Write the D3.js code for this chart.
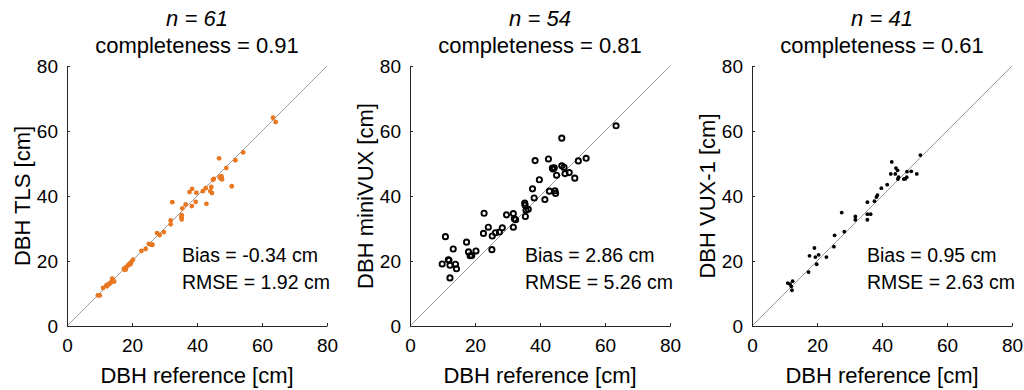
<!DOCTYPE html>
<html>
<head>
<meta charset="utf-8">
<script src="https://cdn.jsdelivr.net/npm/d3@7"></script>
<style>
  body { margin: 0; background: #fff; }
  svg { font-family: 'Liberation Sans', Arial, sans-serif; }
</style>
</head>
<body>
<svg width="1024" height="390"></svg>
<script>
// panel titles and stats
const counts = [61, 54, 41]
const completeness = ['0.91', '0.81', '0.61']
const yLabels = ['DBH TLS [cm]', 'DBH miniVUX [cm]', 'DBH VUX-1 [cm]']
const biasText = ['-0.34', '2.86', '0.95']
const rmseText = ['1.92', '5.26', '2.63']
const ticks = [0, 20, 40, 60, 80]

// [reference DBH, estimated DBH]
const tlsPoints = [
  [9.5, 9.4], [10.1, 9.4], [11.1, 11.7], [12.1, 12.5], [12.3, 12.2], [12.6, 12.8], [13.1, 13.0],
  [13.6, 13.5], [13.9, 14.6], [14.5, 13.7], [17.5, 17.6], [17.7, 17.3], [18.0, 17.9], [18.1, 17.4],
  [18.3, 18.2], [18.8, 18.7], [19.3, 19.2], [19.5, 19.0], [19.8, 19.7], [20.3, 20.4], [22.9, 23.1],
  [24.2, 23.7], [25.2, 25.3], [25.9, 25.0], [26.3, 25.0], [27.7, 28.6], [28.5, 28.0], [29.8, 28.9],
  [31.9, 32.5], [31.9, 31.3], [32.4, 38.1], [35.2, 33.5], [35.3, 34.1], [35.3, 32.8], [35.5, 36.2],
  [36.5, 37.4], [37.7, 41.2], [38.5, 42.2], [38.4, 36.9], [39.6, 38.2], [39.8, 41.0], [41.8, 41.5],
  [42.7, 42.4], [42.9, 37.6], [44.1, 41.5], [44.4, 42.8], [44.6, 40.9], [44.9, 45.0], [45.2, 45.3],
  [46.8, 51.6], [47.0, 45.8], [47.3, 45.4], [47.5, 45.6], [47.7, 45.1], [47.5, 46.1], [49.0, 48.6],
  [50.7, 43.0], [51.8, 51.0], [54.2, 53.4], [63.4, 64.1], [64.2, 62.8]
]
const miniVuxPoints = [
  [9.9, 19.1], [10.9, 27.5], [11.8, 20.4], [12.0, 20.2], [12.3, 18.7], [12.3, 14.8], [13.3, 23.7],
  [14.0, 19.0], [14.3, 17.6], [17.4, 25.8], [18.0, 22.8], [18.5, 21.6], [19.0, 21.7], [20.3, 23.1],
  [22.8, 34.7], [22.6, 28.5], [24.1, 30.4], [25.2, 23.5], [25.3, 27.7], [26.3, 28.7], [27.5, 28.9],
  [28.4, 30.2], [29.7, 34.2], [31.8, 34.6], [31.8, 30.4], [32.1, 33.0], [32.5, 32.7], [35.3, 37.8],
  [35.4, 37.2], [35.5, 33.7], [35.7, 35.6], [36.4, 35.9], [37.7, 42.2], [38.2, 39.4], [38.5, 50.9],
  [39.8, 45.0], [41.5, 38.9], [42.6, 51.4], [42.9, 41.5], [43.8, 48.6], [44.4, 48.7], [44.6, 41.6],
  [44.8, 40.8], [45.1, 46.4], [46.7, 57.8], [46.7, 49.3], [47.4, 48.8], [47.7, 46.9], [49.0, 47.2],
  [50.7, 45.5], [51.8, 50.8], [54.2, 51.6], [63.4, 61.6], [44.0, 48.3]
]
const vuxPoints = [
  [11.0, 13.2], [11.7, 12.9], [12.5, 13.8], [12.3, 11.0], [12.1, 12.2], [17.4, 16.6], [17.7, 21.6],
  [19.2, 24.0], [19.5, 21.2], [19.9, 19.0], [20.5, 21.9], [22.9, 21.2], [25.2, 24.4], [25.4, 27.9],
  [27.6, 34.9], [28.4, 29.0], [31.8, 33.7], [31.8, 32.7], [35.5, 38.1], [35.5, 34.4], [35.5, 32.7],
  [36.5, 34.4], [37.7, 38.4], [38.3, 39.7], [38.6, 40.3], [39.8, 42.4], [41.6, 43.5], [42.7, 46.8],
  [43.0, 50.5], [44.1, 46.8], [44.3, 48.6], [44.8, 47.9], [44.9, 45.2], [45.1, 45.8], [46.7, 45.2],
  [47.2, 45.3], [47.6, 45.8], [47.7, 47.5], [49.0, 47.6], [50.7, 46.8], [51.8, 52.6]
]

const panels = [
  { points: tlsPoints, left: 67, style: 'orange' },
  { points: miniVuxPoints, left: 410, style: 'ring' },
  { points: vuxPoints, left: 752, style: 'dot' }
]

const size = 260
const plotTop = 66
const axisColor = '#262626'
const svg = d3.select('svg')

panels.forEach((p, i) => {
  const x = d3.scaleLinear().domain([0, 80]).range([0, size])
  const y = d3.scaleLinear().domain([0, 80]).range([size, 0])
  const g = svg.append('g').attr('transform', `translate(${p.left},${plotTop})`)

  // 1:1 line
  g.append('line')
    .attr('x1', x(0)).attr('y1', y(0))
    .attr('x2', x(80)).attr('y2', y(80))
    .style('stroke', '#9a9a9a')
    .style('stroke-width', 1)

  // axes, ticks inward like matlab
  const xAxis = d3.axisBottom(x).tickValues(ticks).tickSizeInner(-3).tickSizeOuter(0).tickPadding(12.5)
  const yAxis = d3.axisLeft(y).tickValues(ticks).tickSizeInner(-3).tickSizeOuter(0).tickPadding(9)
  const gx = g.append('g').attr('transform', `translate(0,${size})`).call(xAxis)
  const gy = g.append('g').call(yAxis)
  ;[gx, gy].forEach(a => {
    a.select('.domain').style('stroke', axisColor)
    a.selectAll('line').style('stroke', axisColor)
    a.selectAll('text')
      .style('fill', '#000')
      .style('font-size', '19px')
      .style('font-family', "'Liberation Sans', Arial, sans-serif")
  })

  // data points
  const dots = g.selectAll('.pt').data(p.points).enter().append('circle')
    .attr('class', 'pt')
    .attr('cx', d => x(d[0]))
    .attr('cy', d => y(d[1]))
  if (p.style === 'orange') {
    dots.attr('r', 2.4).style('fill', '#e87722')
  } else if (p.style === 'ring') {
    dots.attr('r', 2.6).style('fill', 'none').style('stroke', '#000').style('stroke-width', 1.9)
  } else {
    dots.attr('r', 1.9).style('fill', '#000')
  }

  // titles
  g.append('text')
    .attr('x', size / 2).attr('y', 26 - plotTop)
    .attr('text-anchor', 'middle')
    .style('font-size', '22px')
    .style('font-style', 'italic')
    .text(`n = ${counts[i]}`)
  g.append('text')
    .attr('x', size / 2).attr('y', 53 - plotTop)
    .attr('text-anchor', 'middle')
    .style('font-size', '22px')
    .text(`completeness = ${completeness[i]}`)

  // axis labels
  g.append('text')
    .attr('x', size / 2).attr('y', 383 - plotTop)
    .attr('text-anchor', 'middle')
    .style('font-size', '22px')
    .text('DBH reference [cm]')
  g.append('text')
    .attr('transform', `translate(-37,${size / 2}) rotate(-90)`)
    .attr('text-anchor', 'middle')
    .style('font-size', '22px')
    .text(yLabels[i])

  // stats
  g.append('text')
    .attr('x', 115).attr('y', 262 - plotTop)
    .style('font-size', '19.5px')
    .text(`Bias = ${biasText[i]} cm`)
  g.append('text')
    .attr('x', 115).attr('y', 289 - plotTop)
    .style('font-size', '19.5px')
    .text(`RMSE = ${rmseText[i]} cm`)
})
</script>
</body>
</html>
